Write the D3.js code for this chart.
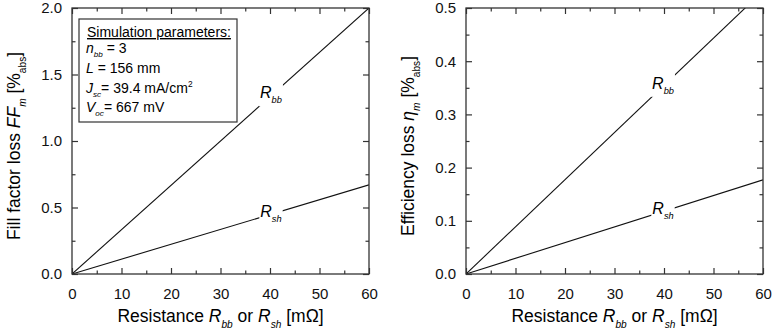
<!DOCTYPE html>
<html lang="en">
<head>
    <meta charset="utf-8">
    <title>Resistance losses</title>
    <script type="text/javascript" src="https://d3js.org/d3.v7.min.js"></script>
    <style type="text/css">
        body { margin: 0; background: #fff; }
        svg { font-family: "Liberation Sans", Arial, sans-serif; }
        .tick text { fill: #111; }
        .tick line { stroke: #333; stroke-width: 1.2px; }
        .domain { display: none; }
        .frame { fill: none; stroke: #333; stroke-width: 1.3px; }
        .curve { fill: none; stroke: #111; stroke-width: 1.1px; }
    </style>
</head>
<body>
    <script type="text/javascript">

        //Data
        var resistance = [0, 60];                  // mOhm
        var ffLossRbb = [0, 2.0];                  // %abs
        var ffLossRsh = [0, 0.67];
        var effLossRbb = [0, 0.532];
        var effLossRsh = [0, 0.177];

        var xTicks = [0, 10, 20, 30, 40, 50, 60];
        var xMinor = [5, 15, 25, 35, 45, 55];
        var ffTicks = [0, 0.5, 1.0, 1.5, 2.0];
        var ffMinor = [0.25, 0.75, 1.25, 1.75];
        var effTicks = [0, 0.1, 0.2, 0.3, 0.4, 0.5];
        var effMinor = [0.05, 0.15, 0.25, 0.35, 0.45];

        var params = [
            [["n", "i"], ["bb", "sub"], [" = 3", ""]],
            [["L", "i"], [" = 156 mm", ""]],
            [["J", "i"], ["sc", "sub"], ["= 39.4 mA/cm", ""], ["2", "sup"]],
            [["V", "i"], ["oc", "sub"], ["= 667 mV", ""]]
        ];

        var w = 780, h = 332;

        var svg = d3.select("body")
            .append("svg")
            .attr("width", w)
            .attr("height", h);

        //adds rich text pieces [text, style] to a text element
        function rich(sel, parts, size) {
            var back = 0;   // baseline shift still to undo
            parts.forEach(function (p) {
                var t = sel.append("tspan").text(p[0]).attr("font-size", size);
                var dy = back;
                back = 0;
                if (p[1] === "i") t.style("font-style", "italic");
                if (p[1] === "sub" || p[1] === "subr") {
                    if (p[1] === "sub") t.style("font-style", "italic");
                    t.attr("font-size", size * 0.58);
                    dy += size * 0.32;
                    back = -size * 0.32;
                }
                if (p[1] === "sup") {
                    t.attr("font-size", size * 0.6);
                    dy += -size * 0.4;
                    back = size * 0.4;
                }
                if (dy) t.attr("dy", dy);
            });
        }

        function panel(left, yDomain, yTicks, yMinor, series, yLabel, labelX) {
            var plotW = 297, top = 8, bottom = 274;
            var x = d3.scaleLinear().domain([0, 60]).range([left, left + plotW]);
            var y = d3.scaleLinear().domain(yDomain).range([bottom, top]);
            var g = svg.append("g");
            var id = "clip" + left;

            g.append("clipPath").attr("id", id)
                .append("rect")
                .attr("x", left).attr("y", top)
                .attr("width", plotW).attr("height", bottom - top);

            var fmt = d3.format(".1f");

            //major + minor ticks on all four sides
            g.append("g").attr("transform", "translate(0," + bottom + ")")
                .call(d3.axisBottom(x).tickValues(xTicks).tickSize(-6).tickPadding(14).tickFormat(d3.format("d")));
            g.append("g").attr("transform", "translate(0," + bottom + ")")
                .call(d3.axisBottom(x).tickValues(xMinor).tickSize(-3.5).tickFormat(""));
            g.append("g").attr("transform", "translate(0," + top + ")")
                .call(d3.axisTop(x).tickValues(xTicks).tickSize(-6).tickFormat(""));
            g.append("g").attr("transform", "translate(0," + top + ")")
                .call(d3.axisTop(x).tickValues(xMinor).tickSize(-3.5).tickFormat(""));

            g.append("g").attr("transform", "translate(" + left + ",0)")
                .call(d3.axisLeft(y).tickValues(yTicks).tickSize(-6).tickPadding(10).tickFormat(fmt));
            g.append("g").attr("transform", "translate(" + left + ",0)")
                .call(d3.axisLeft(y).tickValues(yMinor).tickSize(-3.5).tickFormat(""));
            g.append("g").attr("transform", "translate(" + (left + plotW) + ",0)")
                .call(d3.axisRight(y).tickValues(yTicks).tickSize(-6).tickFormat(""));
            g.append("g").attr("transform", "translate(" + (left + plotW) + ",0)")
                .call(d3.axisRight(y).tickValues(yMinor).tickSize(-3.5).tickFormat(""));

            //drop the empty labels of the unlabelled tick sets
            g.selectAll(".tick text").filter(function () { return this.textContent === ""; }).remove();
            g.selectAll(".tick text").attr("font-family", null).attr("font-size", 15);

            var line = d3.line()
                .x(function (d) { return x(d[0]); })
                .y(function (d) { return y(d[1]); });

            var lines = g.append("g").attr("clip-path", "url(#" + id + ")");

            series.forEach(function (s) {
                var pts = resistance.map(function (r, i) { return [r, s.values[i]]; });
                lines.append("path").attr("class", "curve").attr("d", line(pts));

                //label sits on the line, with a white patch to break it
                var yv = d3.scaleLinear().domain(resistance).range(s.values)(labelX);
                var lab = g.append("g");
                var t = lab.append("text")
                    .attr("font-size", 16)
                    .attr("text-anchor", "middle");
                rich(t, [["R", "i"], [s.sub, "sub"]], 16);
                var bb = t.node().getBBox();
                t.attr("x", x(labelX) - (bb.x + bb.width / 2))
                    .attr("y", y(yv) - (bb.y + bb.height / 2) - 1);
                bb = t.node().getBBox();
                lab.insert("rect", "text")
                    .attr("x", bb.x - 1).attr("y", bb.y - 1)
                    .attr("width", bb.width + 2).attr("height", bb.height + 2)
                    .attr("fill", "#fff");
            });

            g.append("rect").attr("class", "frame")
                .attr("x", left).attr("y", top)
                .attr("width", plotW).attr("height", bottom - top);

            //axis titles
            var xl = g.append("text")
                .attr("x", left + plotW / 2)
                .attr("y", 322)
                .attr("font-size", 17.5)
                .attr("text-anchor", "middle");
            rich(xl, [["Resistance ", ""], ["R", "i"], ["bb", "sub"], [" or ", ""], ["R", "i"], ["sh", "sub"], [" [m\u03a9]", ""]], 17.5);

            var yl = g.append("text")
                .attr("transform", "translate(" + (left - 52) + "," + ((top + bottom) / 2 + 5) + ") rotate(-90)")
                .attr("font-size", 17.5)
                .attr("text-anchor", "middle");
            rich(yl, yLabel, 17.5);

            return { x: x, y: y, g: g };
        }

        var p1 = panel(72, [0, 2.0], ffTicks, ffMinor,
            [{ values: ffLossRbb, sub: "bb" }, { values: ffLossRsh, sub: "sh" }],
            [["Fill factor loss ", ""], ["FF", "i"], ["m", "sub"], [" [%", ""], ["abs", "subr"], ["]", ""]],
            40.2);

        var p2 = panel(466, [0, 0.5], effTicks, effMinor,
            [{ values: effLossRbb, sub: "bb" }, { values: effLossRsh, sub: "sh" }],
            [["Efficiency loss ", ""], ["\u03b7", "i"], ["m", "sub"], [" [%", ""], ["abs", "subr"], ["]", ""]],
            39.8);

        //simulation parameter box
        var box = p1.g.append("g");
        box.append("rect")
            .attr("x", 79).attr("y", 19)
            .attr("width", 158).attr("height", 103)
            .attr("fill", "#fff")
            .attr("stroke", "#333")
            .attr("stroke-width", 1.2);
        box.append("text")
            .attr("x", 87).attr("y", 37)
            .attr("font-size", 14)
            .style("text-decoration", "underline")
            .text("Simulation parameters:");
        var rows = [53, 73, 93, 112];
        params.forEach(function (parts, i) {
            var t = box.append("text")
                .attr("x", 86).attr("y", rows[i])
                .attr("font-size", 14);
            rich(t, parts, 14);
        });

    </script>
</body>
</html>
